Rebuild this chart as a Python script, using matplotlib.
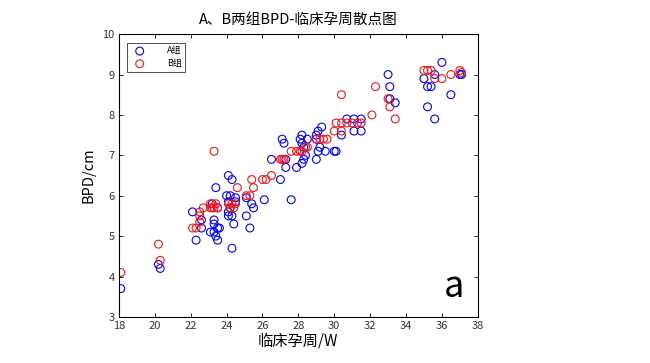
import matplotlib
matplotlib.use("Agg")
import matplotlib.pyplot as plt

plt.rcParams['font.family'] = ['Noto Sans CJK SC', 'DejaVu Sans']

# group A (blue): clinical gestational week, BPD in cm
a_week = [18.1, 20.2, 20.3,
          22.1, 22.3, 22.6, 22.6, 23.1, 23.2, 23.3, 23.3, 23.3, 23.4, 23.4, 23.5, 23.5, 23.6, 23.5,
          24.1, 24.3, 24.0, 24.2, 24.5, 24.1, 24.5, 24.2, 24.1, 24.1, 24.3, 24.4, 24.3,
          25.1, 25.3, 25.1, 25.4, 25.5, 26.1, 27.6, 27.0,
          26.5, 27.1, 27.2, 27.3, 27.3, 27.9, 28.2, 28.3, 28.4, 28.2, 28.1, 28.5, 28.2, 28.3,
          29.0, 29.1, 29.2, 29.5, 30.0, 30.1, 29.3, 29.1, 29.0, 29.0, 30.4, 30.7, 31.1, 31.5, 31.1, 31.5,
          33.0, 33.1, 33.1, 33.4, 35.0, 35.6, 35.2, 35.4, 35.2, 35.6, 36.0, 36.5, 37.0, 37.1]
a_bpd = [3.7, 4.3, 4.2,
         5.6, 4.9, 5.4, 5.2, 5.1, 5.8, 5.4, 5.3, 5.1, 6.2, 5.0, 5.2, 4.9, 5.2, 5.7,
         6.5, 6.4, 6.0, 6.0, 5.95, 5.85, 5.85, 5.7, 5.6, 5.5, 5.5, 5.3, 4.7,
         5.5, 5.2, 5.95, 5.8, 5.7, 5.9, 5.9, 6.4,
         6.9, 7.4, 7.3, 6.9, 6.7, 6.7, 6.8, 6.9, 7.0, 7.5, 7.4, 7.4, 7.3, 7.2,
         6.9, 7.1, 7.2, 7.1, 7.1, 7.1, 7.7, 7.6, 7.5, 7.4, 7.5, 7.9, 7.9, 7.9, 7.6, 7.6,
         9.0, 8.7, 8.4, 8.3, 8.9, 9.0, 8.7, 8.7, 8.2, 7.9, 9.3, 8.5, 9.0, 9.0]

# group B (red)
b_week = [18.1, 20.2, 20.3,
          22.1, 22.3, 22.5, 22.5, 22.7, 22.5, 23.1, 23.2, 23.3, 23.5, 23.4, 23.1, 23.3,
          24.1, 24.3, 24.5, 24.4, 24.2, 24.6, 25.1, 25.3, 25.5, 25.4, 26.0, 26.2, 26.5,
          27.0, 27.1, 27.2, 27.6, 27.9, 28.1, 28.2, 28.4, 28.5, 29.0, 29.2, 29.4, 29.6,
          30.0, 30.4, 30.1, 30.4, 30.7, 31.0, 31.3, 31.5, 30.4, 32.3, 32.1,
          33.0, 33.1, 33.4, 35.0, 35.2, 35.4, 35.6, 36.0, 36.5, 37.0, 37.1]
b_bpd = [4.1, 4.8, 4.4,
         5.2, 5.2, 5.5, 5.6, 5.7, 5.35, 5.7, 5.7, 5.7, 5.7, 5.8, 5.8, 7.1,
         5.8, 5.8, 5.8, 5.7, 5.7, 6.2, 6.0, 6.0, 6.2, 6.4, 6.4, 6.4, 6.5,
         6.9, 6.9, 6.9, 7.1, 7.1, 7.1, 7.1, 7.2, 7.2, 7.4, 7.4, 7.4, 7.4,
         7.6, 7.6, 7.8, 7.8, 7.8, 7.8, 7.8, 7.8, 8.5, 8.7, 8.0,
         8.4, 8.2, 7.9, 9.1, 9.1, 9.1, 8.9, 8.9, 9.0, 9.1, 9.05]

x_ticks = list(range(18, 40, 2))
y_ticks = list(range(3, 11))

fig = plt.figure(figsize=(6.5, 3.63), dpi=100)
ax = fig.add_axes([0.183, 0.127, 0.552, 0.779])

ax.scatter(a_week, a_bpd, s=32, facecolors="none", edgecolors="#0000ff",
           linewidths=0.8, label="A组")
ax.scatter(b_week, b_bpd, s=32, facecolors="none", edgecolors="#f01818",
           linewidths=0.8, label="B组")

ax.set_xlim(18, 38)
ax.set_ylim(3, 10)
ax.set_xticks(x_ticks)
ax.set_yticks(y_ticks)
ax.tick_params(direction="in", top=True, right=True, length=3, width=0.6,
               labelsize=8, labelcolor="#333333", pad=3)
for sp in ax.spines.values():
    sp.set_linewidth(0.8)

ax.set_title("A、B两组BPD-临床孕周散点图", fontsize=10.5, pad=7)
ax.set_xlabel("临床孕周/W", fontsize=11, labelpad=1)
ax.set_ylabel("BPD/cm", fontsize=10.5, labelpad=5)

ax.text(36.7, 3.75, "a", fontsize=26, ha="center", va="center")

leg = ax.legend(loc="upper left", fontsize=6.5, frameon=True, fancybox=False,
                edgecolor="black", borderpad=0.4, handletextpad=2.0,
                labelspacing=0.4, bbox_to_anchor=(0.01, 0.985))
leg.get_frame().set_linewidth(0.6)

fig.savefig("out.png", dpi=100)
